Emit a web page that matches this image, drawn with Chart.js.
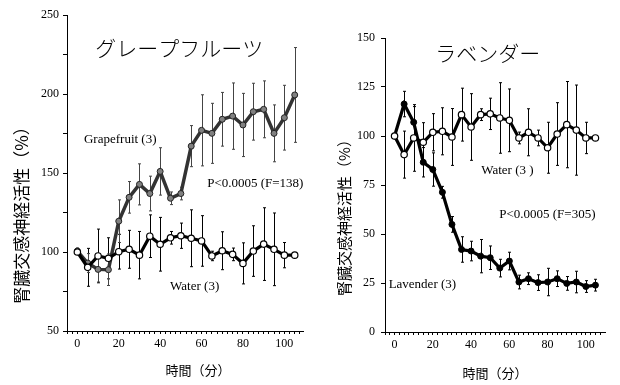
<!DOCTYPE html>
<html><head><meta charset="utf-8">
<script src="https://cdn.jsdelivr.net/npm/chart.js@4/dist/chart.umd.min.js"></script>
<style>
html,body{margin:0;padding:0;background:#fff;}
#wrap{position:relative;width:620px;height:385px;overflow:hidden;background:#fff;}
canvas{position:absolute;top:0;}
#cL{left:0;} #cR{left:310px;}
</style></head>
<body><div id="wrap"><canvas id="cL" width="310" height="385"></canvas><canvas id="cR" width="310" height="385"></canvas></div>
<script>
// ---- data ----
const times = [0,5,10,15,20,25,30,35,40,45,50,55,60,65,70,75,80,85,90,95,100,105];
const grapefruit    = [100.6,93,89,88.8,119.5,134.6,142.8,137,151,134,137,167,177,175.1,184,186,180.4,188.8,190.3,175.1,185,199.4];
const grapefruitErr = [2,6,8,10,13.5,10,13,11,15,4,4,13,22.5,19,17,21,20,18,18,18,20.5,30];
const waterL    = [100,90.3,97.5,96,100.2,101.7,98,110,104.9,109,110.3,108.7,107,97.5,100.8,98.5,92.8,100.6,105,101.7,98,98];
const waterLErr = [0,12,17,13,11,12,15,13.5,17,4,8,18,16,3,12,4,13,16,23,23,8,0];
const lavender    = [100,116.3,107,86.6,82.9,71.3,54.9,42.1,41.3,38.7,37.9,32.6,36.2,25.5,27.2,25.2,25.5,27.2,24.8,25.5,23.2,23.9];
const lavenderErr = [0,6.5,8,7.5,8.5,3,4,6.5,5,8.5,6,4.5,4.5,3.5,3,4,7,4,3.5,5.5,3,3];
const waterR    = [100,90.5,99,96.8,101.9,102.4,99.5,110.9,104.6,110.9,111.3,109.2,108,99,101.9,99,94,101,105.8,103,99,99];
const waterRErr = [0,12,17,10,9.5,12,14.5,13.5,17,3,8,18,16,3,12,4,13,16,22,23,8,0];
const xTickLabels = [0,20,40,60,80,100];
const yTickLabelsL = [50,100,150,200,250];
const yTickLabelsR = [0,25,50,75,100,125,150];

const SERIF = "'Liberation Serif','DejaVu Serif',serif";
const JP = "'Noto Sans CJK JP','Noto Sans CJK SC',sans-serif";

function range(a,b,s){const r=[];for(let v=a;v<=b+1e-9;v+=s)r.push(Math.round(v*100)/100);return r;}

const errorBarPlugin = {
  id:'errbars',
  beforeDatasetsDraw(chart){
    const ctx=chart.ctx, xs=chart.scales.x, ys=chart.scales.y;
    chart.data.datasets.forEach(ds=>{
      if(!ds.errors) return;
      ctx.save(); ctx.strokeStyle=ds.errColor||'#000'; ctx.lineWidth=1;
      ds.data.forEach((p,i)=>{
        const e=ds.errors[i]; if(!e) return;
        const x=Math.round(xs.getPixelForValue(p.x))+0.5;
        const y1=ys.getPixelForValue(p.y+e), y2=ys.getPixelForValue(p.y-e);
        ctx.beginPath(); ctx.moveTo(x,y1); ctx.lineTo(x,y2);
        ctx.moveTo(x-1.5,y1); ctx.lineTo(x+1.5,y1);
        ctx.moveTo(x-1.5,y2); ctx.lineTo(x+1.5,y2);
        ctx.stroke();
      });
      ctx.restore();
    });
  }
};
const textPlugin = {
  id:'texts',
  afterDraw(chart){
    const ctx=chart.ctx, xs=chart.scales.x, ys=chart.scales.y;
    (chart.options.plugins.texts.items||[]).forEach(t=>{
      ctx.save();
      ctx.font=t.font; ctx.fillStyle='#000'; ctx.textBaseline='middle';
      ctx.textAlign=t.align||'left';
      let px,py;
      if(t.data){px=xs.getPixelForValue(t.x);py=ys.getPixelForValue(t.y);}else{px=t.x;py=t.y;}
      ctx.translate(px,py);
      if(t.rot) ctx.rotate(t.rot);
      ctx.fillText(t.text,0,0);
      ctx.restore();
    });
  }
};

function pts(ys){return times.map((t,i)=>({x:t,y:ys[i]}));}

function makeChart(id, cfg){
  return new Chart(document.getElementById(id),{
    type:'line',
    data:{datasets:cfg.datasets},
    options:{
      responsive:false, animation:false, devicePixelRatio:1,
      layout:{padding:cfg.padding},
      plugins:{legend:{display:false},tooltip:{enabled:false},texts:{items:cfg.texts}},
      elements:{line:{tension:0}},
      scales:{
        x:{type:'linear',min:cfg.xmin,max:cfg.xmax,
          afterBuildTicks:s=>{s.ticks=range(-5,cfg.xmax-0.5,2.5).filter(v=>v>=cfg.xmin).map(v=>({value:v}));},
          afterFit:s=>{s.height=cfg.xh;},
          ticks:{autoSkip:false,maxRotation:0,padding:3,color:'#000',font:{family:SERIF,size:12},
            callback:v=>xTickLabels.includes(v)?String(v):''},
          grid:{drawOnChartArea:false,tickLength:3,color:'#000',lineWidth:1},
          border:{color:'#000',width:1}},
        y:{type:'linear',min:cfg.ymin,max:cfg.ymax,
          afterBuildTicks:s=>{s.ticks=range(cfg.ymin,cfg.ymax,25).map(v=>({value:v}));},
          afterFit:s=>{s.width=cfg.yw;},
          ticks:{autoSkip:false,padding:cfg.ypad,color:'#000',font:{family:SERIF,size:12},
            callback:v=>cfg.ylabels.includes(v)?String(v):''},
          grid:{drawOnChartArea:false,tickLength:4,color:'#000',lineWidth:1},
          border:{color:'#000',width:1}}
      }
    },
    plugins:[errorBarPlugin,textPlugin]
  });
}

makeChart('cL',{
  padding:{left:0,top:15,right:7,bottom:0}, xh:54, yw:67, ypad:4,
  xmin:-5,xmax:109,ymin:50,ymax:250,ylabels:yTickLabelsL,
  datasets:[
    {label:'Water (3)',data:pts(waterL),errors:waterLErr,errColor:'#000',
     borderColor:'#000',borderWidth:3.2,pointRadius:3.2,pointBackgroundColor:'#fff',pointBorderColor:'#000',pointBorderWidth:1.2},
    {label:'Grapefruit (3)',data:pts(grapefruit),errors:grapefruitErr,errColor:'#444',
     borderColor:'#333',borderWidth:3.5,pointRadius:3,pointBackgroundColor:'#808080',pointBorderColor:'#222',pointBorderWidth:1}
  ],
  texts:[
    {text:'グレープフルーツ',data:true,x:8.6,y:229,font:"300 21px "+JP},
    {text:'Grapefruit (3)',data:true,x:3.2,y:171,font:"13px "+SERIF},
    {text:'P<0.0005 (F=138)',data:true,x:62.7,y:143,font:"13px "+SERIF},
    {text:'Water (3)',data:true,x:44.8,y:78,font:"13px "+SERIF},
    {text:'腎臓交感神経活性（%）',x:22,y:211,rot:-Math.PI/2,align:'center',font:"17px "+JP},
    {text:'時間（分）',x:198,y:370,align:'center',font:"13px "+JP}
  ]
});

makeChart('cR',{
  padding:{left:0,top:38,right:15,bottom:0}, xh:53, yw:75, ypad:6,
  xmin:-5,xmax:110,ymin:0,ymax:150,ylabels:yTickLabelsR,
  datasets:[
    {label:'Water (3 )',data:pts(waterR),errors:waterRErr,errColor:'#000',
     borderColor:'#000',borderWidth:3.2,pointRadius:3.2,pointBackgroundColor:'#fff',pointBorderColor:'#000',pointBorderWidth:1.2},
    {label:'Lavender (3)',data:pts(lavender),errors:lavenderErr,errColor:'#000',
     borderColor:'#000',borderWidth:3.2,pointRadius:3,pointStyle:'circle',pointBackgroundColor:'#000',pointBorderColor:'#000',pointBorderWidth:1}
  ],
  texts:[
    {text:'ラベンダー',data:true,x:21.3,y:142.5,font:"300 21px "+JP},
    {text:'Water (3 )',data:true,x:45.3,y:82.4,font:"13px "+SERIF},
    {text:'P<0.0005 (F=305)',data:true,x:54.7,y:60,font:"13px "+SERIF},
    {text:'Lavender (3)',data:true,x:-3.1,y:24.3,font:"13px "+SERIF},
    {text:'腎臓交感神経活性（%）',x:34,y:214,rot:-Math.PI/2,align:'center',font:"15px "+JP},
    {text:'時間（分）',x:185,y:373,align:'center',font:"13px "+JP}
  ]
});
</script></body></html>
